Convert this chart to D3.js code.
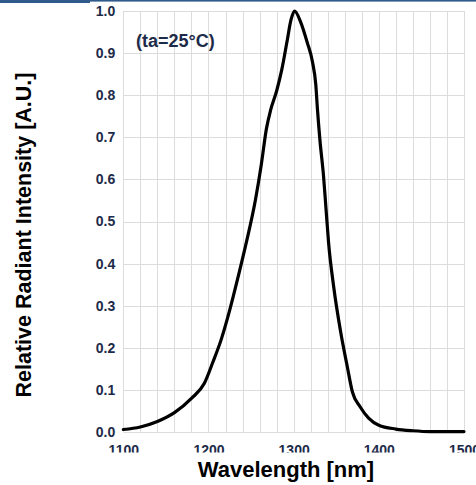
<!DOCTYPE html>
<html>
<head>
<meta charset="utf-8">
<script src="https://cdn.jsdelivr.net/npm/d3@7"></script>
<style>
  html, body { margin: 0; padding: 0; background: #ffffff; }
  svg { display: block; }
</style>
</head>
<body>
<script>
// ---- data ----
const wavelengths = [1100, 1120, 1140, 1160, 1180, 1195, 1205, 1215, 1225, 1235, 1245, 1255, 1262, 1268, 1273, 1280, 1286, 1292, 1297, 1301, 1308, 1316, 1322, 1326, 1328, 1331, 1335, 1338, 1341, 1347, 1355, 1363, 1369, 1378, 1388, 1400, 1420, 1440, 1460, 1480, 1500];
const intensity   = [0.006, 0.012, 0.025, 0.046, 0.08, 0.115, 0.165, 0.22, 0.29, 0.37, 0.455, 0.55, 0.635, 0.72, 0.765, 0.81, 0.86, 0.925, 0.98, 1.0, 0.975, 0.925, 0.88, 0.825, 0.765, 0.69, 0.61, 0.53, 0.45, 0.345, 0.24, 0.155, 0.095, 0.06, 0.033, 0.016, 0.007, 0.003, 0.001, 0.001, 0.001];
const xTicks = [1100, 1200, 1300, 1400, 1500];
const yTicks = [0.0, 0.1, 0.2, 0.3, 0.4, 0.5, 0.6, 0.7, 0.8, 0.9, 1.0];
const xGrid = d3.range(1100, 1501, 20);
const annotation = "(ta=25°C)";
const xTitle = "Wavelength [nm]";
const yTitle = "Relative Radiant Intensity [A.U.]";

const W = 476, H = 485;
const svg = d3.select("body").append("svg").attr("width", W).attr("height", H);

// top decoration bar
svg.append("rect").attr("x", 0).attr("y", 0).attr("width", 90).attr("height", 3).attr("fill", "#2f5a8b");
svg.append("rect").attr("x", 90).attr("y", 0).attr("width", W - 90).attr("height", 1.6).attr("fill", "#2f5a8b");

const x = d3.scaleLinear().domain([1100, 1500]).range([123.3, 464]);
const y = d3.scaleLinear().domain([0, 1]).range([432, 11]);

const font = "'Liberation Sans', Arial, Helvetica, sans-serif";
const labelColor = "#1d2a48";

// grid
const grid = svg.append("g");
grid.selectAll("line.v").data(xGrid).enter().append("line")
  .attr("x1", d => Math.round(x(d)) + 0.5).attr("x2", d => Math.round(x(d)) + 0.5)
  .attr("y1", y(1)).attr("y2", y(0))
  .attr("stroke", "#dcdcdc").attr("stroke-width", 1);
grid.selectAll("line.h").data(yTicks).enter().append("line")
  .attr("x1", x(1100)).attr("x2", x(1500))
  .attr("y1", d => Math.round(y(d)) + 0.5).attr("y2", d => Math.round(y(d)) + 0.5)
  .attr("stroke", "#dcdcdc").attr("stroke-width", 1);

// y axis tick labels
const yAxis = d3.axisLeft(y).tickValues(yTicks).tickFormat(d3.format(".1f")).tickSize(0).tickPadding(8);
const gy = svg.append("g").attr("transform", `translate(${x(1100)},0)`).call(yAxis);
gy.select(".domain").remove();
gy.selectAll("text").attr("font-family", font).attr("font-size", 14).attr("font-weight", "bold").attr("fill", labelColor);

// x axis tick labels (clipped at bottom like the reference); clip rect is in the group's local space
svg.append("clipPath").attr("id", "xclip").append("rect").attr("x", -50).attr("y", 2).attr("width", W + 100).attr("height", 18.5);
const xAxis = d3.axisBottom(x).tickValues(xTicks).tickFormat(d3.format("d")).tickSize(0).tickPadding(13);
const gx = svg.append("g").attr("transform", `translate(0,${y(0)})`).attr("clip-path", "url(#xclip)").call(xAxis);
gx.select(".domain").remove();
gx.selectAll("text").attr("font-family", font).attr("font-size", 14).attr("font-weight", "bold").attr("fill", labelColor);

// curve
const pts = wavelengths.map((w, i) => [w, intensity[i]]);
const line = d3.line().x(d => x(d[0])).y(d => y(d[1])).curve(d3.curveMonotoneX);
svg.append("path").datum(pts).attr("d", line)
  .attr("fill", "none").attr("stroke", "#000").attr("stroke-width", 3.2)
  .attr("stroke-linejoin", "round").attr("stroke-linecap", "round");

// annotation
svg.append("text").attr("x", 136).attr("y", 47)
  .attr("font-family", font).attr("font-size", 18).attr("font-weight", "bold").attr("fill", labelColor)
  .text(annotation);

// axis titles
svg.append("text").attr("x", 286).attr("y", 477).attr("text-anchor", "middle")
  .attr("font-family", font).attr("font-size", 22).attr("font-weight", "bold").attr("fill", "#000")
  .text(xTitle);
svg.append("text").attr("transform", "translate(31,235) rotate(-90)").attr("text-anchor", "middle")
  .attr("font-family", font).attr("font-size", 21.5).attr("font-weight", "bold").attr("fill", "#000")
  .text(yTitle);
</script>
</body>
</html>
